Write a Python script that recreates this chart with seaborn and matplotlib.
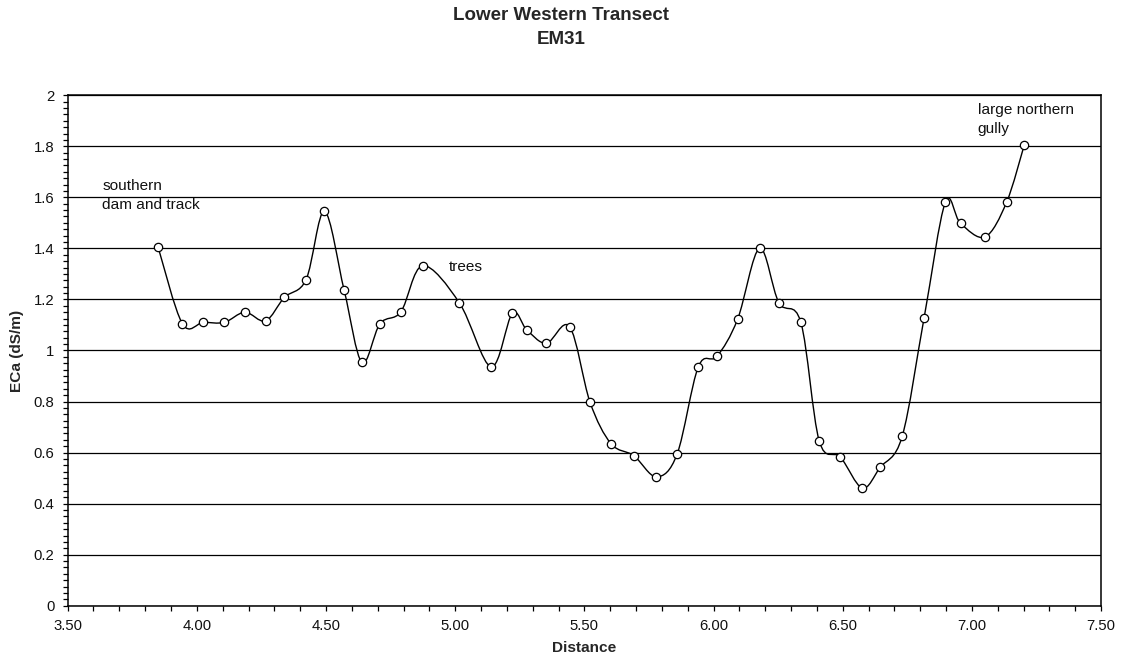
import numpy as np
import pandas as pd
import seaborn as sns
import matplotlib
matplotlib.use("Agg")
import matplotlib.pyplot as plt
from matplotlib.path import Path
from matplotlib.patches import PathPatch
from matplotlib.ticker import MultipleLocator, FormatStrFormatter

# ---- data ----
distance = [3.850, 3.944, 4.025, 4.106, 4.186, 4.266, 4.339, 4.423, 4.494, 4.570,
            4.639, 4.709, 4.790, 4.874, 5.016, 5.139, 5.221, 5.277, 5.353, 5.443,
            5.522, 5.603, 5.691, 5.779, 5.859, 5.941, 6.013, 6.093, 6.178, 6.253,
            6.338, 6.409, 6.491, 6.576, 6.645, 6.730, 6.815, 6.897, 6.956, 7.051,
            7.134, 7.203]
eca = [1.405, 1.105, 1.110, 1.110, 1.150, 1.116, 1.208, 1.278, 1.545, 1.237,
       0.953, 1.105, 1.152, 1.332, 1.187, 0.936, 1.145, 1.081, 1.028, 1.093,
       0.797, 0.635, 0.588, 0.505, 0.594, 0.936, 0.977, 1.122, 1.400, 1.187,
       1.110, 0.646, 0.582, 0.461, 0.542, 0.663, 1.128, 1.580, 1.498, 1.445,
       1.580, 1.806]
x_ticks = [3.5, 4.0, 4.5, 5.0, 5.5, 6.0, 6.5, 7.0, 7.5]
y_ticks = [0, 0.2, 0.4, 0.6, 0.8, 1.0, 1.2, 1.4, 1.6, 1.8, 2.0]
y_tick_labels = ["0", "0.2", "0.4", "0.6", "0.8", "1", "1.2", "1.4", "1.6", "1.8", "2"]
notes = ["southern\ndam and track", "trees", "large northern\ngully"]
note_x = [3.634, 4.977, 7.023]
note_y = [1.608, 1.328, 1.905]

df = pd.DataFrame({"Distance": distance, "ECa": eca})

sns.set_theme(style="white")
plt.rcParams["font.family"] = ["Liberation Sans", "DejaVu Sans"]

fig = plt.figure(figsize=(11.24, 6.66), dpi=100)
ax = fig.add_axes([0.0602, 0.0905, 0.9796 - 0.0602, 0.857 - 0.0905])

# horizontal gridlines
for yv in y_ticks:
    ax.axhline(yv, color="black", lw=0.9, zorder=1)

# smooth (Excel-style) curve through the data points
pts = np.column_stack([df["Distance"].values, df["ECa"].values])
verts = [tuple(pts[0])]
codes = [Path.MOVETO]
n = len(pts)
for i in range(n - 1):
    p_prev = pts[i - 1] if i > 0 else pts[i]
    p_next2 = pts[i + 2] if i + 2 < n else pts[i + 1]
    c1 = pts[i] + (pts[i + 1] - p_prev) / 6.0
    c2 = pts[i + 1] - (p_next2 - pts[i]) / 6.0
    verts += [tuple(c1), tuple(c2), tuple(pts[i + 1])]
    codes += [Path.CURVE4] * 3
ax.add_patch(PathPatch(Path(verts, codes), facecolor="none", edgecolor="black",
                       lw=1.0, zorder=2))

sns.scatterplot(data=df, x="Distance", y="ECa", ax=ax, marker="o", s=36,
                facecolor="white", edgecolor="black", linewidth=0.9, zorder=3,
                legend=False)

ax.set_xlim(3.5, 7.5)
ax.set_ylim(0, 2)
ax.set_xticks(x_ticks)
ax.xaxis.set_major_formatter(FormatStrFormatter("%.2f"))
ax.set_yticks(y_ticks)
ax.set_yticklabels(y_tick_labels)
ax.xaxis.set_minor_locator(MultipleLocator(0.1))
ax.yaxis.set_minor_locator(MultipleLocator(0.025))
ax.tick_params(axis="both", which="both", direction="out", length=3.5, width=0.9,
               color="black", labelsize=10.7, labelcolor="#111111")
ax.tick_params(axis="x", which="both", bottom=True, pad=6)
ax.tick_params(axis="y", which="both", left=True, pad=6)

for s in ax.spines.values():
    s.set_visible(True)
    s.set_color("black")
    s.set_linewidth(1.1)

ax.set_xlabel("Distance", fontsize=11.1, fontweight="bold", labelpad=6)
ax.set_ylabel("ECa (dS/m)", fontsize=11.1, fontweight="bold", labelpad=7)

for t, xx, yy in zip(notes, note_x, note_y):
    ax.text(xx, yy, t, fontsize=11.1, ha="left", va="center", color="#111111",
            linespacing=1.5)

fig.text(0.499, 1 - 15.7 / 666, "Lower Western Transect", ha="center", va="center",
         fontsize=13.5, fontweight="bold")
fig.text(0.499, 1 - 40 / 666, "EM31", ha="center", va="center",
         fontsize=13.5, fontweight="bold")

fig.savefig("out.png", dpi=100, facecolor="white")
